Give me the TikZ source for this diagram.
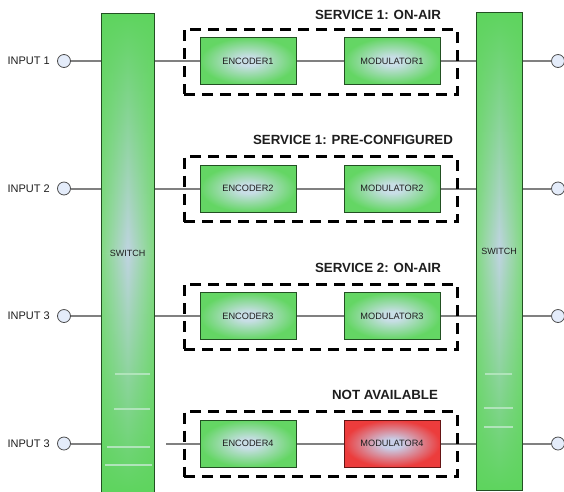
\documentclass[tikz,border=0pt]{standalone}
\usepackage{fontspec}
\setmainfont{Liberation Sans}
\usetikzlibrary{fadings}
\definecolor{swg}{RGB}{94,212,94}
\definecolor{swe}{RGB}{130,218,130}
\definecolor{swb}{RGB}{192,212,226}
\definecolor{boxg}{RGB}{100,214,100}
\definecolor{glowc}{RGB}{200,222,230}
\definecolor{boxr}{RGB}{236,60,60}
\definecolor{glowr}{RGB}{200,206,232}
\definecolor{wire}{RGB}{128,128,128}
\definecolor{edgeg}{RGB}{34,80,34}
\definecolor{edger}{RGB}{100,20,20}
\definecolor{circf}{RGB}{228,236,250}
\definecolor{stripec}{RGB}{176,228,186}
\definecolor{txt}{RGB}{30,30,30}
\pgfdeclarelayer{bg}
\pgfsetlayers{bg,main}
\tikzfading[name=midfade, top color=transparent!100, bottom color=transparent!100, middle color=transparent!0]
\pgfdeclareradialshading{glowg}{\pgfpoint{0bp}{0bp}}{color(0bp)=(glowc); color(5bp)=(glowc); color(25bp)=(boxg); color(50bp)=(boxg)}
\pgfdeclareradialshading{glowred}{\pgfpoint{0bp}{0bp}}{color(0bp)=(glowr); color(5bp)=(glowr); color(25bp)=(boxr); color(50bp)=(boxr)}
\begin{document}
\begin{tikzpicture}[x=1pt,y=-1pt,
  wireline/.style={draw=wire, line width=2pt},
  port/.style={circle, draw=black!70, fill=circf, line width=0.8pt, minimum size=13pt, inner sep=0pt},
  inlabel/.style={anchor=east, text=txt, font=\fontsize{11}{13}\selectfont, inner sep=0pt},
  swnode/.style={draw=edgeg, line width=0.8pt, inner sep=0pt, text=txt, font=\fontsize{9}{10}\selectfont},
  encbox/.style={draw=edgeg, line width=0.8pt, shade, shading=glowg, minimum width=96pt, minimum height=47pt, inner sep=0pt, text=txt, font=\fontsize{9.2}{10}\selectfont},
  redbox/.style={draw=edger, line width=0.8pt, shade, shading=glowred, minimum width=96pt, minimum height=47pt, inner sep=0pt, text=txt, font=\fontsize{9.2}{10}\selectfont},
  svcbox/.style={draw=black, line width=3pt, dash pattern=on 11pt off 7pt, minimum width=273pt, minimum height=65pt, inner sep=0pt},
  svctitle/.style={text=txt, font=\bfseries\fontsize{13.3}{15}\selectfont, inner sep=0pt},
  stripe/.style={draw=stripec, line width=2.2pt}]
\useasboundingbox (0,0) rectangle (564,491);
% switch backgrounds
\fill[swg] (101,13) rectangle (154,493);
\shade[left color=swe, right color=swe, middle color=swb, path fading=midfade] (101,13) rectangle (154,493);
\fill[swg] (476,12) rectangle (522,490);
\shade[left color=swe, right color=swe, middle color=swb, path fading=midfade] (476,12) rectangle (522,490);
\draw[stripe] (115,374) -- (150,374);
\draw[stripe] (114,409) -- (150,409);
\draw[stripe] (107,447) -- (150,447);
\draw[stripe] (105,465) -- (152,465);
\draw[stripe] (485,374) -- (512,374);
\draw[stripe] (484,408) -- (513,408);
\draw[stripe] (484,427) -- (513,427);
\node[swnode, minimum width=53pt, minimum height=480pt] (swL) at (127.5,253) {SWITCH};
\node[swnode, minimum width=46pt, minimum height=478pt] (swR) at (499,251) {SWITCH};
% inputs
\node[port] (in1) at (64,61) {};
\node[port] (in2) at (64,188.5) {};
\node[port] (in3) at (64,316) {};
\node[port] (in4) at (64,443.5) {};
\node[inlabel] (lin1) at (50,61) {INPUT 1};
\node[inlabel] (lin2) at (50,188.5) {INPUT 2};
\node[inlabel] (lin3) at (50,316) {INPUT 3};
\node[inlabel] (lin4) at (50,443.5) {INPUT 3};
% outputs
\node[port] (out1) at (558,61) {};
\node[port] (out2) at (558,188.5) {};
\node[port] (out3) at (558,316) {};
\node[port] (out4) at (558,443.5) {};
% service boxes
\node[svcbox] (svc1) at (320.5,61.5) {};
\node[svcbox] (svc2) at (320.5,189) {};
\node[svcbox] (svc3) at (320.5,316.5) {};
\node[svcbox] (svc4) at (320.5,444) {};
\node[svctitle] (t1) at (378,15) {SERVICE 1: ON-AIR};
\node[svctitle] (t2) at (353,140) {SERVICE 1: PRE-CONFIGURED};
\node[svctitle] (t3) at (378,268) {SERVICE 2: ON-AIR};
\node[svctitle] (t4) at (385,395) {NOT AVAILABLE};
% encoders / modulators
\node[encbox] (enc1) at (248,61) {ENCODER1};
\node[encbox] (mod1) at (392,61) {MODULATOR1};
\node[encbox] (enc2) at (248,188.5) {ENCODER2};
\node[encbox] (mod2) at (392,188.5) {MODULATOR2};
\node[encbox] (enc3) at (248,316) {ENCODER3};
\node[encbox] (mod3) at (392,316) {MODULATOR3};
\node[encbox] (enc4) at (248,443.5) {ENCODER4};
\node[redbox] (mod4) at (392,443.5) {MODULATOR4};
\coordinate (gap4) at (166,443.5);
% wires
\begin{pgfonlayer}{bg}
\foreach \i in {1,2,3,4} {
  \path[wireline] (in\i) -- (swL.west |- in\i);
  \path[wireline] (enc\i) -- (mod\i);
  \path[wireline] (mod\i) -- (swR.west |- mod\i);
  \path[wireline] (swR.east |- mod\i) -- (out\i);
}
\path[wireline] (swL.east |- enc1) -- (enc1);
\path[wireline] (swL.east |- enc2) -- (enc2);
\path[wireline] (swL.east |- enc3) -- (enc3);
\path[wireline] (gap4) -- (enc4);
\end{pgfonlayer}
\end{tikzpicture}
\end{document}
